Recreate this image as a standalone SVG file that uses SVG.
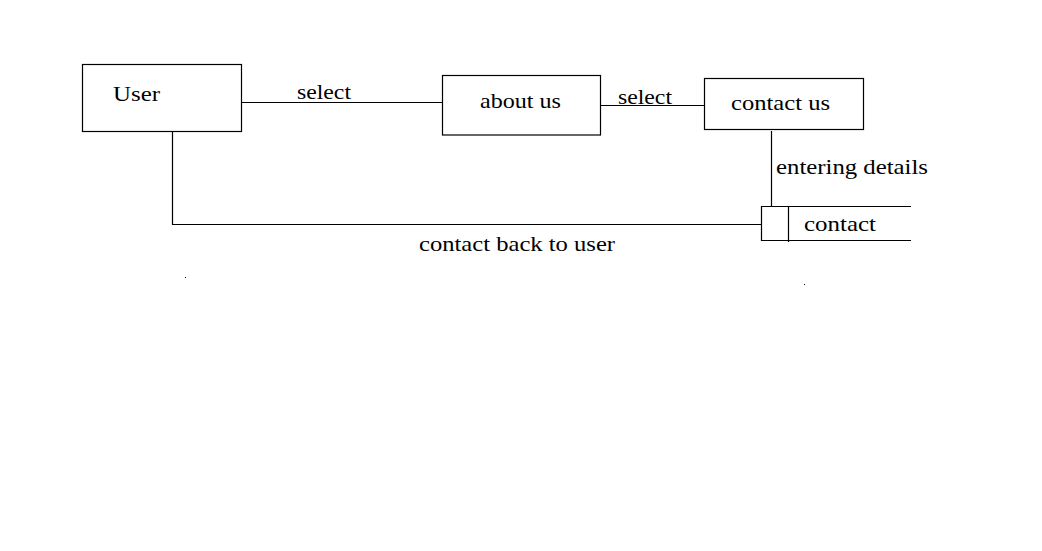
<svg xmlns="http://www.w3.org/2000/svg" width="1042" height="551" viewBox="0 0 1042 551">
<style>
.box{fill:#fff;stroke:#000;stroke-width:1.2}
.ln{fill:none;stroke:#000;stroke-width:1.2}
text{font-family:'Liberation Serif','DejaVu Serif',serif;font-size:22px;fill:#000}
</style>
<rect width="1042" height="551" fill="#fff"/>
<g id="connectors">
<line class="ln" x1="241.5" y1="102.5" x2="442.5" y2="102.5"/>
<line class="ln" x1="600.5" y1="105.5" x2="704.5" y2="105.5"/>
<line class="ln" x1="771.5" y1="131" x2="771.5" y2="206.5"/>
<polyline class="ln" points="172.5,131.5 172.5,224.5 761.5,224.5"/>
<text x="297" y="99" textLength="54" lengthAdjust="spacingAndGlyphs">select</text>
<text x="618" y="104" textLength="54" lengthAdjust="spacingAndGlyphs">select</text>
<text x="776" y="174" textLength="152" lengthAdjust="spacingAndGlyphs">entering details</text>
<text x="419" y="251" textLength="196" lengthAdjust="spacingAndGlyphs">contact back to user</text>
</g>
<g id="user">
<rect class="box" x="82.5" y="64.5" width="159" height="67"/>
<text x="113" y="101" textLength="47" lengthAdjust="spacingAndGlyphs">User</text>
</g>
<g id="about-us">
<rect class="box" x="442.5" y="75.5" width="158" height="59.5"/>
<text x="480" y="108" textLength="81" lengthAdjust="spacingAndGlyphs">about us</text>
</g>
<g id="contact-us">
<rect class="box" x="704.5" y="78.5" width="159" height="51"/>
<text x="731" y="110" textLength="99" lengthAdjust="spacingAndGlyphs">contact us</text>
</g>
<g id="contact">
<polyline class="ln" points="911,206.5 761.5,206.5 761.5,240.5 911,240.5"/>
<line class="ln" x1="788.5" y1="206.5" x2="788.5" y2="242"/>
<text x="804" y="231" textLength="72" lengthAdjust="spacingAndGlyphs">contact</text>
</g>
<rect x="185" y="277" width="1" height="1" fill="#000"/>
<rect x="804" y="284" width="1" height="1" fill="#000"/>
</svg>
